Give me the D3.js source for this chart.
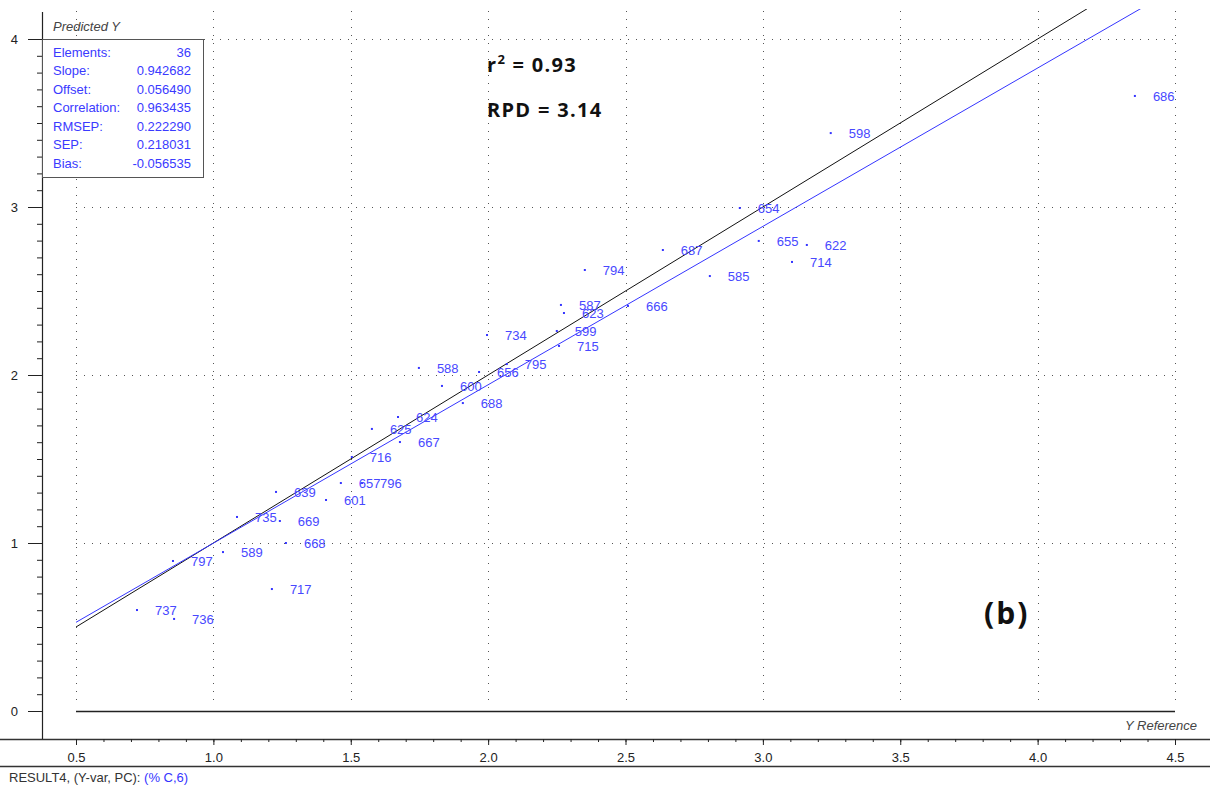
<!DOCTYPE html>
<html>
<head>
<meta charset="utf-8">
<script src="https://cdn.jsdelivr.net/npm/d3@7"></script>
<style>
  html, body { margin: 0; padding: 0; background: #fff; }
  svg { display: block; }
  .tick text { font-family: "Liberation Sans", Arial, sans-serif; font-size: 13px; fill: #222; }
</style>
</head>
<body>
<svg id="chart" width="1210" height="789"></svg>
<script>
// ---------- data ----------
const sampleIds = ["686","598","654","655","622","714","687","794","585","587","623","666",
  "599","715","734","795","656","588","600","688","624","625","667","716",
  "657","796","601","639","735","669","668","589","797","717","737","736"];
const referenceY = [4.354,3.247,2.916,2.985,3.160,3.106,2.636,2.352,2.807,2.265,2.276,2.509,
  2.250,2.258,1.996,2.068,1.967,1.748,1.832,1.908,1.672,1.577,1.679,1.504,
  1.464,1.541,1.410,1.228,1.086,1.242,1.264,1.035,0.853,1.213,0.722,0.857];
const predictedY = [3.661,3.440,2.994,2.798,2.774,2.673,2.744,2.625,2.589,2.417,2.369,2.411,
  2.262,2.173,2.238,2.065,2.018,2.042,1.935,1.833,1.750,1.679,1.601,1.512,
  1.357,1.357,1.256,1.304,1.155,1.131,1.000,0.946,0.893,0.726,0.601,0.548];
const statLabels = ["Elements:","Slope:","Offset:","Correlation:","RMSEP:","SEP:","Bias:"];
const statValues = ["36","0.942682","0.056490","0.963435","0.222290","0.218031","-0.056535"];
const slope = 0.942682, offset = 0.056490;
const xTicks = [0.5,1.0,1.5,2.0,2.5,3.0,3.5,4.0,4.5];
const yTicks = [0,1,2,3,4];
const r2Text = "0.93", rpdText = "3.14", panelLabel = "(b)";

// ---------- layout ----------
const W = 1210, H = 789;
const axisX = 42, axisY = 739;
const svg = d3.select("#chart");
const x = d3.scaleLinear().domain([0.5, 4.5]).range([76, 1175]);
const y = d3.scaleLinear().domain([0, 4]).range([711, 39]);
const font = '"Liberation Sans", Arial, sans-serif';
const blue = "#3535ff";

// clip for plot area
svg.append("defs").append("clipPath").attr("id","plotclip")
  .append("rect").attr("x", x(0.5)).attr("y", 9).attr("width", x(4.5)-x(0.5)).attr("height", y(0)-9);

// dotted grid
const grid = svg.append("g").attr("stroke", "#555").attr("stroke-width", 1).attr("stroke-dasharray", "1,7");
const xGrid = d3.range(0.5, 4.51, 0.5);
grid.selectAll("line.v").data(xGrid).join("line")
  .attr("x1", d => Math.round(x(d)) + 0.5).attr("x2", d => Math.round(x(d)) + 0.5)
  .attr("y1", 11).attr("y2", y(0) - 6);
grid.selectAll("line.h").data(yTicks.filter(d => d > 0)).join("line")
  .attr("x1", x(0.5)).attr("x2", x(4.5))
  .attr("y1", d => Math.round(y(d)) + 0.5).attr("y2", d => Math.round(y(d)) + 0.5);

// zero line
svg.append("line").attr("x1", x(0.5)).attr("x2", x(4.5))
  .attr("y1", y(0) + 0.5).attr("y2", y(0) + 0.5).attr("stroke", "#222").attr("stroke-width", 1.5);

// lines
const lines = svg.append("g").attr("clip-path", "url(#plotclip)").attr("fill", "none");
lines.append("line").attr("x1", x(0.5)).attr("y1", y(0.5)).attr("x2", x(4.5)).attr("y2", y(4.5))
  .attr("stroke", "#111").attr("stroke-width", 1);
lines.append("line").attr("x1", x(0.5)).attr("y1", y(slope*0.5+offset))
  .attr("x2", x(4.5)).attr("y2", y(slope*4.5+offset))
  .attr("stroke", blue).attr("stroke-width", 1);

// points
const pts = svg.append("g");
pts.selectAll("rect").data(sampleIds).join("rect")
  .attr("x", (d,i) => x(referenceY[i]) - 1).attr("y", (d,i) => y(predictedY[i]) - 1)
  .attr("width", 2).attr("height", 2).attr("fill", blue);
pts.selectAll("text").data(sampleIds).join("text")
  .attr("x", (d,i) => x(referenceY[i]) + 18).attr("y", (d,i) => y(predictedY[i]))
  .attr("dy", "0.36em").attr("font-family", font).attr("font-size", 13).attr("fill", "#4848ff")
  .text(d => d);

// axes frame lines
svg.append("line").attr("x1", 0).attr("x2", W).attr("y1", axisY + 0.5).attr("y2", axisY + 0.5)
  .attr("stroke", "#333").attr("stroke-width", 1.5);
svg.append("line").attr("x1", 0).attr("x2", W).attr("y1", 766.5).attr("y2", 766.5)
  .attr("stroke", "#333").attr("stroke-width", 1.5);
svg.append("line").attr("x1", axisX + 0.5).attr("x2", axisX + 0.5).attr("y1", 12).attr("y2", axisY)
  .attr("stroke", "#222").attr("stroke-width", 1.2);

// x axis (major + minor)
const xMinor = d3.range(5, 46).map(d => d / 10);
const gxm = svg.append("g").attr("transform", `translate(0,${axisY})`)
  .call(d3.axisBottom(x).tickValues(xMinor).tickSize(3).tickFormat(""));
gxm.select(".domain").remove();
const gx = svg.append("g").attr("transform", `translate(0,${axisY})`)
  .call(d3.axisBottom(x).tickValues(xTicks).tickSize(6).tickFormat(d3.format(".1f")));
gx.select(".domain").remove();
gx.selectAll(".tick text").attr("y", 23).attr("dy", 0);
svg.selectAll(".tick line").attr("stroke", "#222");

// y axis
const yMinor = d3.range(0, 41).map(d => d / 10);
const gym = svg.append("g").attr("transform", `translate(${axisX},0)`)
  .call(d3.axisLeft(y).tickValues(yMinor).tickSize(5).tickFormat(""));
gym.select(".domain").remove();
const gy = svg.append("g").attr("transform", `translate(${axisX},0)`)
  .call(d3.axisLeft(y).tickValues(yTicks).tickSize(14).tickPadding(10).tickFormat(d3.format("d")));
gy.select(".domain").remove();
gy.selectAll(".tick text").attr("font-size", 15);
svg.selectAll(".tick line").attr("stroke", "#222");

// axis titles
svg.append("text").attr("x", 53).attr("y", 31).attr("font-family", font).attr("font-size", 13)
  .attr("font-style", "italic").attr("fill", "#444").text("Predicted Y");
svg.append("text").attr("x", 1197).attr("y", 730).attr("text-anchor", "end").attr("font-family", font)
  .attr("font-size", 13).attr("font-style", "italic").attr("fill", "#444").text("Y Reference");

// stats box
const box = svg.append("g");
box.append("rect").attr("x", 42.5).attr("y", 39.5).attr("width", 161).attr("height", 138)
  .attr("fill", "#fff").attr("stroke", "#555").attr("stroke-width", 1);
statLabels.forEach((lab, i) => {
  const yy = 52 + i * 18.5;
  box.append("text").attr("x", 53).attr("y", yy).attr("dy", "0.36em").attr("font-family", font)
    .attr("font-size", 13).attr("fill", "#3a3aff").text(lab);
  box.append("text").attr("x", 191).attr("y", yy).attr("dy", "0.36em").attr("text-anchor", "end")
    .attr("font-family", font).attr("font-size", 13).attr("fill", "#3a3aff").text(statValues[i]);
});

// annotations
const boldFont = '"Open Sans", Lato, sans-serif';
const r2 = svg.append("text").attr("x", 487).attr("y", 72).attr("font-family", boldFont)
  .attr("font-weight", 700).attr("font-size", 20).attr("letter-spacing", 1.3).attr("fill", "#111");
r2.append("tspan").text("r");
r2.append("tspan").attr("font-size", 13).attr("dy", -8).text("2");
r2.append("tspan").attr("dy", 8).text(" = " + r2Text);
svg.append("text").attr("x", 487).attr("y", 117).attr("font-family", boldFont)
  .attr("font-weight", 700).attr("font-size", 20).attr("letter-spacing", 1.3).attr("fill", "#111")
  .text("RPD = " + rpdText);
svg.append("text").attr("x", 984).attr("y", 624).attr("font-family", boldFont)
  .attr("font-weight", 700).attr("font-size", 30).attr("letter-spacing", 2).attr("fill", "#111")
  .text(panelLabel);

// footer
const foot = svg.append("text").attr("x", 9).attr("y", 782).attr("font-family", font)
  .attr("font-size", 13).attr("fill", "#333");
foot.append("tspan").text("RESULT4, (Y-var, PC): ");
foot.append("tspan").attr("fill", blue).text("(% C,6)");
</script>
</body>
</html>
